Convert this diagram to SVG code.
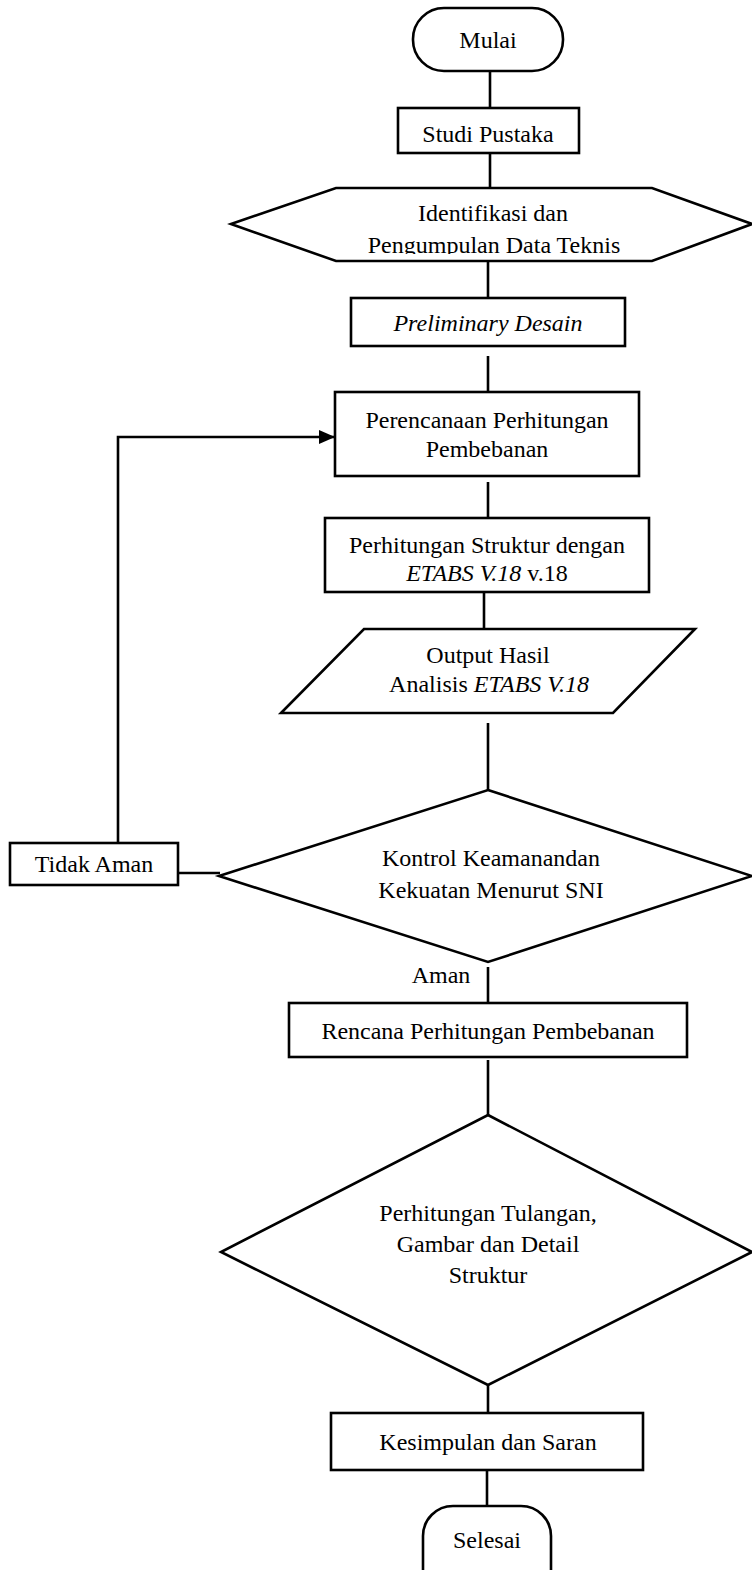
<svg xmlns="http://www.w3.org/2000/svg" width="752" height="1570" viewBox="0 0 752 1570">
<style>
.s{fill:#fff;stroke:#000;stroke-width:2.6}
.c{fill:none;stroke:#000;stroke-width:2.6}
text{font-family:"Liberation Serif","Times New Roman",serif;font-size:24px;fill:#000;text-anchor:middle}
.i{font-style:italic}
</style>
<defs>
<marker id="ah" markerWidth="16" markerHeight="14" refX="15" refY="7" orient="auto" markerUnits="userSpaceOnUse">
<path d="M0,0 L16,7 L0,14 Z" fill="#000"/>
</marker>
<clipPath id="hexclip"><rect x="220" y="180" width="532" height="74"/></clipPath>
</defs>
<g id="connectors">
<line class="c" x1="490" y1="71" x2="490" y2="108"/>
<line class="c" x1="490" y1="153" x2="490" y2="188"/>
<line class="c" x1="488" y1="261" x2="488" y2="298"/>
<line class="c" x1="488" y1="356" x2="488" y2="392"/>
<line class="c" x1="488" y1="482" x2="488" y2="517"/>
<line class="c" x1="484" y1="592" x2="484" y2="629"/>
<line class="c" x1="488" y1="723" x2="488" y2="790"/>
<line class="c" x1="178" y1="873" x2="220" y2="873" stroke-width="3.2"/>
<path class="c" d="M118,843 L118,437 L334,437" marker-end="url(#ah)"/>
<line class="c" x1="488" y1="967" x2="488" y2="1003"/>
<line class="c" x1="488" y1="1060" x2="488" y2="1115"/>
<line class="c" x1="488" y1="1385" x2="488" y2="1413"/>
<line class="c" x1="487" y1="1470" x2="487" y2="1506"/>
</g>
<g id="mulai">
<rect class="s" x="413" y="8" width="150" height="63" rx="31" ry="31"/>
<text x="488" y="48" font-size="22">Mulai</text>
</g>
<g id="studi">
<rect class="s" x="398" y="108" width="181" height="45"/>
<text x="488" y="142">Studi Pustaka</text>
</g>
<g id="identifikasi">
<polygon class="s" points="231,224 336,188 652,188 752,224 652,261 336,261"/>
<text x="493" y="221">Identifikasi dan</text>
<text x="494" y="253" clip-path="url(#hexclip)">Pengumpulan Data Teknis</text>
</g>
<g id="preliminary">
<rect class="s" x="351" y="298" width="274" height="48"/>
<text class="i" x="488" y="331">Preliminary Desain</text>
</g>
<g id="perencanaan">
<rect class="s" x="335" y="392" width="304" height="84"/>
<text x="487" y="428">Perencanaan Perhitungan</text>
<text x="487" y="457">Pembebanan</text>
</g>
<g id="perhitungan-struktur">
<rect class="s" x="325" y="518" width="324" height="74"/>
<text x="487" y="553">Perhitungan Struktur dengan</text>
<text x="487" y="581"><tspan class="i">ETABS V.18</tspan> v.18</text>
</g>
<g id="output">
<polygon class="s" points="364,629 695,629 613,713 281,713"/>
<text x="488" y="663">Output Hasil</text>
<text x="489" y="692">Analisis <tspan class="i">ETABS V.18</tspan></text>
</g>
<g id="kontrol">
<polygon class="s" points="488,790 752,876 488,962 219,876"/>
<text x="491" y="866">Kontrol Keamanandan</text>
<text x="491" y="898">Kekuatan Menurut SNI</text>
</g>
<g id="tidak-aman">
<rect class="s" x="10" y="843" width="168" height="42"/>
<text x="94" y="872">Tidak Aman</text>
</g>
<g id="aman-label">
<text x="441" y="983">Aman</text>
</g>
<g id="rencana">
<rect class="s" x="289" y="1003" width="398" height="54"/>
<text x="488" y="1039">Rencana Perhitungan Pembebanan</text>
</g>
<g id="tulangan">
<polygon class="s" points="488,1115 752,1252 488,1385 221,1252"/>
<text x="488" y="1221">Perhitungan Tulangan,</text>
<text x="488" y="1252">Gambar dan Detail</text>
<text x="488" y="1283">Struktur</text>
</g>
<g id="kesimpulan">
<rect class="s" x="331" y="1413" width="312" height="57"/>
<text x="488" y="1450">Kesimpulan dan Saran</text>
</g>
<g id="selesai">
<rect class="s" x="423" y="1506" width="128" height="100" rx="30" ry="30"/>
<text x="487" y="1548">Selesai</text>
</g>
</svg>
